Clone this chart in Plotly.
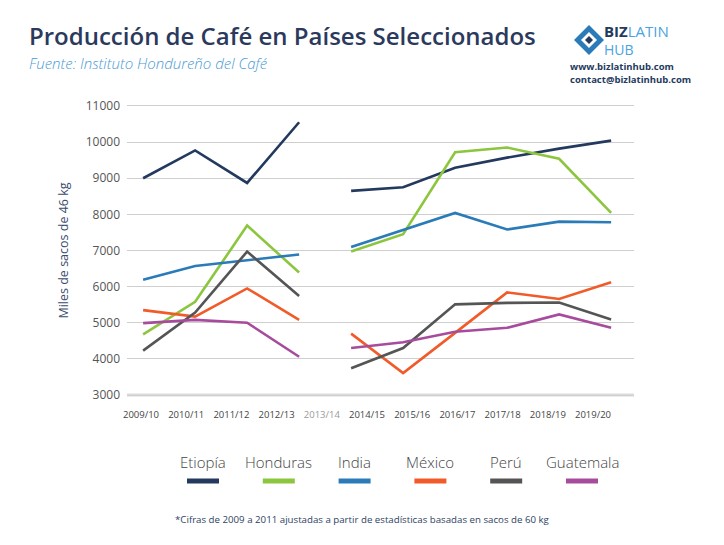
import plotly.graph_objects as go

# ---------------- data ----------------
seasons = ["2009/10", "2010/11", "2011/12", "2012/13", "2013/14", "2014/15",
           "2015/16", "2016/17", "2017/18", "2018/19", "2019/20"]
gap_season = "2013/14"

countries = ["Etiopía", "Honduras", "India", "México", "Perú", "Guatemala"]

# values for the seasons other than 2013/14 (10 values each)
etiopia   = [9000, 9770, 8870, 10550, 8650, 8750, 9290, 9570, 9820, 10040]
honduras  = [4680, 5580, 7690, 6390, 6970, 7450, 9720, 9850, 9540, 8040]
india     = [6190, 6570, 6730, 6890, 7100, 7580, 8040, 7580, 7800, 7780]
mexico    = [5350, 5170, 5950, 5080, 4700, 3610, 4720, 5840, 5660, 6120]
peru      = [4230, 5280, 6970, 5740, 3740, 4300, 5510, 5550, 5560, 5090]
guatemala = [4990, 5080, 5000, 4060, 4300, 4460, 4750, 4860, 5230, 4860]

series = [etiopia, honduras, india, mexico, peru, guatemala]
colors = ["#233a5e", "#8cc63f", "#2b7bb9", "#f15a29", "#555555", "#a74c9d"]

y_ticks = [3000, 4000, 5000, 6000, 7000, 8000, 9000, 10000, 11000]

title = "Producción de Café en Países Seleccionados"
subtitle = "Fuente: Instituto Hondureño del Café"
y_title = "Miles de sacos de 46 kg"
footnote = "*Cifras de 2009 a 2011 ajustadas a partir de estadísticas basadas en sacos de 60 kg"

# ---------------- layout geometry ----------------
W, H = 724, 545
ML, MR, MT, MB = 127, 90, 102, 146
PW = W - ML - MR
PH = H - MT - MB


def px(x):
    return (x - ML) / PW


def py(y):
    return (H - MB - y) / PH


FONT = "Open Sans"
fig = go.Figure()

data_seasons = [s for s in seasons if s != gap_season]
gap_idx = seasons.index(gap_season)
for name, vals, col in zip(countries, series, colors):
    xs = list(range(gap_idx)) + [None] + list(range(gap_idx, len(data_seasons)))
    ys = vals[:gap_idx] + [None] + vals[gap_idx:]
    fig.add_trace(go.Scatter(
        x=xs, y=ys, mode="lines", name=name,
        line=dict(color=col, width=2.6), connectgaps=False,
        hovertext=[data_seasons[i] if i is not None else None for i in xs],
    ))

ticktext = [f"<span style='color:#9a9a9a'>{s}</span>" if s == gap_season else s
            for s in seasons]

fig.update_layout(
    width=W, height=H,
    margin=dict(l=ML, r=MR, t=MT, b=MB, autoexpand=False),
    paper_bgcolor="white", plot_bgcolor="white",
    showlegend=False,
    font=dict(family=FONT, color="#555555"),
    xaxis=dict(range=[-0.31, 9.44], showgrid=False, zeroline=False,
               showticklabels=False, showline=False, automargin=False),
    xaxis2=dict(overlaying="x", anchor="y", side="bottom",
                range=[-0.31, 10.907], tickmode="array",
                tickvals=list(range(len(seasons))), ticktext=ticktext,
                showgrid=False, zeroline=False, showline=False, automargin=False,
                tickfont=dict(size=9.5, color="#444444", family=FONT),
                ticklabelstandoff=8),
    yaxis=dict(range=[2890, 11110], tickmode="array", tickvals=y_ticks,
               ticktext=[str(v) for v in y_ticks], automargin=False,
               showgrid=True, gridcolor="#cfcfcf", gridwidth=1,
               zeroline=False, showline=False,
               tickfont=dict(size=12, color="#555555", family=FONT),
               ticklabelstandoff=6,
               title=dict(text=y_title, font=dict(size=12.5, color="#3a4a6e", family=FONT),
                          standoff=14)),
)

# dummy invisible trace so xaxis2 renders
fig.add_trace(go.Scatter(x=[None], y=[None], xaxis="x2", yaxis="y",
                         showlegend=False, hoverinfo="skip"))

# thicker baseline at 3000
fig.add_shape(type="line", xref="paper", yref="y", x0=0, x1=1, y0=y_ticks[0], y1=y_ticks[0],
              line=dict(color="#dcdcdc", width=3), layer="below")

ann = []
ann.append(dict(text=title, x=px(27), y=py(35), xanchor="left", yanchor="middle",
                font=dict(size=24, color="#2b3a5c", family=FONT, weight=600)))
ann.append(dict(text=f"<i>{subtitle}</i>", x=px(27), y=py(63), xanchor="left", yanchor="middle",
                font=dict(size=15, color="#4a9ad4", family=FONT, weight=300)))

# custom legend
for i, (name, col) in enumerate(zip(countries, colors)):
    cx = 203 + i * 75.8
    ann.append(dict(text=name, x=px(cx), y=py(462), xanchor="center", yanchor="middle",
                    font=dict(size=15, color="#444444", family=FONT, weight=300)))
    fig.add_shape(type="line", xref="paper", yref="paper",
                  x0=px(cx - 16), x1=px(cx + 16), y0=py(481), y1=py(481),
                  line=dict(color=col, width=5))

ann.append(dict(text=footnote, x=px(362), y=py(519), xanchor="center", yanchor="middle",
                font=dict(size=9.7, color="#2e3f63", family=FONT)))

# logo
ann.append(dict(text="<b>BIZ</b><span style='color:#4aa3df'>LATIN</span>", x=px(602), y=py(31.5),
                xanchor="left", yanchor="middle",
                font=dict(size=15, color="#233a5e", family=FONT)))
ann.append(dict(text="HUB", x=px(602), y=py(50), xanchor="left", yanchor="middle",
                font=dict(size=14, color="#4aa3df", family=FONT)))
ann.append(dict(text="<b>www.bizlatinhub.com</b>", x=px(568), y=py(66), xanchor="left",
                yanchor="middle", font=dict(size=9.5, color="#233a5e", family=FONT)))
ann.append(dict(text="<b>contact@bizlatinhub.com</b>", x=px(568), y=py(79), xanchor="left",
                yanchor="middle", font=dict(size=9.5, color="#233a5e", family=FONT)))

for a in ann:
    a.update(xref="paper", yref="paper", showarrow=False)
fig.update_layout(annotations=ann)

# logo icon (rotated squares)
def diamond(cx, cy, r):
    return (f"M {px(cx - r)} {py(cy)} L {px(cx)} {py(cy - r)} "
            f"L {px(cx + r)} {py(cy)} L {px(cx)} {py(cy + r)} Z")

fig.add_shape(type="path", xref="paper", yref="paper", path=diamond(589, 40, 15),
              fillcolor="#2b7bb9", line=dict(width=0))
fig.add_shape(type="path", xref="paper", yref="paper", path=diamond(589, 40, 8),
              fillcolor="white", line=dict(width=0))
fig.add_shape(type="path", xref="paper", yref="paper", path=diamond(589, 40, 4),
              fillcolor="#233a5e", line=dict(width=0))

fig.write_html("out.html", config={"displayModeBar": False},
               post_script="document.body.style.margin='0';")
